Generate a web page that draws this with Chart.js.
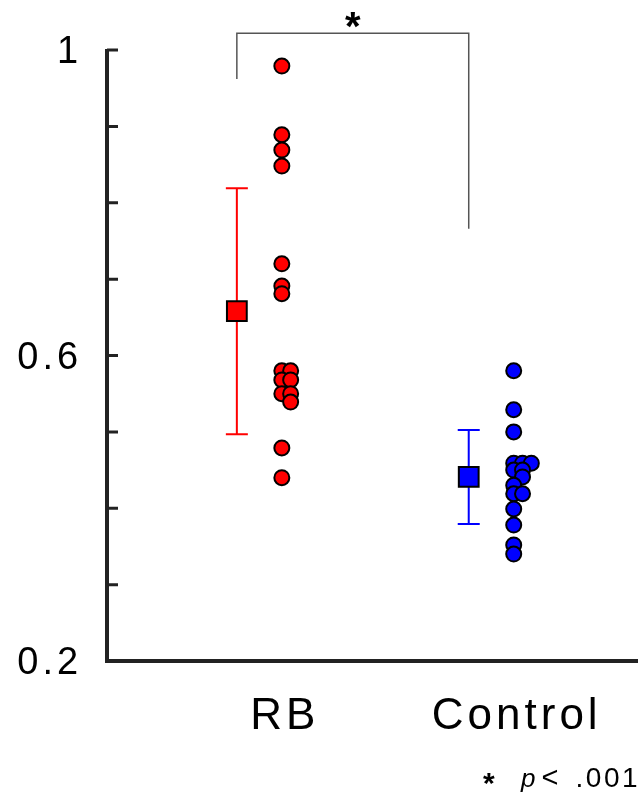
<!DOCTYPE html>
<html><head><meta charset="utf-8">
<script src="https://cdn.jsdelivr.net/npm/chart.js@4/dist/chart.umd.min.js"></script>
<style>html,body{margin:0;padding:0;background:#fff;}canvas{display:block;}</style>
</head><body>
<canvas id="c" width="640" height="798"></canvas>
<script>
// ---- data ----
const categories = ['RB', 'Control'];
const rbValues = [0.979, 0.889, 0.869, 0.848, 0.720, 0.691, 0.681, 0.580, 0.580, 0.568, 0.568, 0.550, 0.550, 0.539, 0.479, 0.440];
const controlValues = [0.580, 0.529, 0.500, 0.459, 0.459, 0.459, 0.450, 0.450, 0.441, 0.430, 0.419, 0.419, 0.399, 0.378, 0.352, 0.340];
const rbStack = [0, 0, 0, 0, 0, 0, 0, 0, 1, 0, 1, 0, 1, 1, 0, 0];
const controlStack = [0, 0, 0, 0, 1, 2, 0, 1, 1, 0, 0, 1, 0, 0, 0, 0];
const means = [0.658, 0.441];
const sds = [0.161, 0.0615];
const yTickValues = [0.2, 0.3, 0.4, 0.5, 0.6, 0.7, 0.8, 0.9, 1.0];
const yTickLabels = ['0.2', '', '', '', '0.6', '', '', '', '1'];
const bracketLevels = [1.022, 0.962, 0.766]; // top, left foot, right foot
const sigMark = '*';
const noteParts = ['*', 'p', '<', '.001'];

// ---- style ----
const colors = ['#ff0000', '#0000ff'];
const POINT_OFFSET = 0.194;
const STACK_STEP = 0.038;
const FONT = '"Liberation Sans", Arial, sans-serif';

function spaced(ctx, text, x, y, spacing, align) {
  const chars = [...text];
  const ws = chars.map(c => ctx.measureText(c).width);
  const total = ws.reduce((s, w) => s + w, 0) + spacing * (chars.length - 1);
  let sx = align === 'center' ? x - total / 2 : align === 'right' ? x - total : x;
  ctx.textAlign = 'left';
  chars.forEach((c, i) => { ctx.fillText(c, sx, y); sx += ws[i] + spacing; });
  return total;
}
// right-align by ink edge
function spacedInkRight(ctx, text, x, y, spacing) {
  const chars = [...text];
  const last = ctx.measureText(chars[chars.length - 1]);
  const bearing = last.width - last.actualBoundingBoxRight;
  return spaced(ctx, text, x + bearing, y, spacing, 'right');
}

const decor = {
  id: 'decor',
  beforeDatasetsDraw(chart) {
    const { ctx, chartArea: a, scales: { x, y } } = chart;
    ctx.save();
    // error bars
    means.forEach((m, i) => {
      const px = x.getPixelForValue(i + 1);
      const t = y.getPixelForValue(m + sds[i]);
      const b = y.getPixelForValue(m - sds[i]);
      ctx.strokeStyle = colors[i];
      ctx.lineWidth = 2;
      ctx.beginPath();
      ctx.moveTo(px, t); ctx.lineTo(px, b);
      ctx.moveTo(px - 11, t); ctx.lineTo(px + 11, t);
      ctx.moveTo(px - 11, b); ctx.lineTo(px + 11, b);
      ctx.stroke();
    });
    // axes
    ctx.strokeStyle = '#222';
    ctx.lineWidth = 4;
    ctx.lineJoin = 'miter';
    ctx.beginPath();
    ctx.moveTo(a.left, a.top - 1);
    ctx.lineTo(a.left, a.bottom);
    ctx.lineTo(a.right, a.bottom);
    ctx.stroke();
    ctx.lineWidth = 3;
    ctx.beginPath();
    yTickValues.forEach(v => {
      const py = y.getPixelForValue(v);
      ctx.moveTo(a.left, py); ctx.lineTo(a.left + 11, py);
    });
    ctx.stroke();
    // significance bracket
    const x1 = x.getPixelForValue(1), x2 = x.getPixelForValue(2);
    ctx.strokeStyle = '#555';
    ctx.lineWidth = 1.5;
    ctx.beginPath();
    ctx.moveTo(x1, y.getPixelForValue(bracketLevels[1]));
    ctx.lineTo(x1, y.getPixelForValue(bracketLevels[0]));
    ctx.lineTo(x2, y.getPixelForValue(bracketLevels[0]));
    ctx.lineTo(x2, y.getPixelForValue(bracketLevels[2]));
    ctx.stroke();
    ctx.restore();
  },
  afterDraw(chart) {
    const { ctx, chartArea: a, scales: { x, y } } = chart;
    ctx.save();
    ctx.fillStyle = '#000';
    ctx.textBaseline = 'alphabetic';
    // y tick labels
    ctx.font = '38px ' + FONT;
    yTickValues.forEach((v, i) => {
      if (!yTickLabels[i]) return;
      spacedInkRight(ctx, yTickLabels[i], 77, y.getPixelForValue(v) + 13, 4);
    });
    // category labels
    ctx.font = '44px ' + FONT;
    categories.forEach((c, i) => {
      spaced(ctx, c, x.getPixelForValue(i + 1 + POINT_OFFSET) + 1, 729, 4, 'center');
    });
    // significance star
    ctx.font = 'bold 40px ' + FONT;
    spaced(ctx, sigMark, (x.getPixelForValue(1) + x.getPixelForValue(2)) / 2, 40, 0, 'center');
    // note
    ctx.font = '28px ' + FONT;
    spacedInkRight(ctx, noteParts[3], 637, 787, 2.5);
    ctx.font = '29px ' + FONT;
    spaced(ctx, noteParts[2], 550, 787, 0, 'center');
    ctx.font = 'italic 26px ' + FONT;
    spaced(ctx, noteParts[1], 521, 787, 0, 'left');
    ctx.font = 'bold 30px ' + FONT;
    spaced(ctx, noteParts[0], 483, 793, 0, 'left');
    ctx.restore();
  }
};

const pts = (vals, stack, i) => vals.map((v, k) => ({ x: i + 1 + POINT_OFFSET + stack[k] * STACK_STEP, y: v }));

new Chart(document.getElementById('c'), {
  type: 'scatter',
  data: {
    datasets: [
      { label: categories[0], data: pts(rbValues, rbStack, 0), backgroundColor: colors[0], borderColor: '#000', borderWidth: 2, pointRadius: 7.5, pointHoverRadius: 7.5, clip: false },
      { label: categories[1], data: pts(controlValues, controlStack, 1), backgroundColor: colors[1], borderColor: '#000', borderWidth: 2, pointRadius: 7.5, pointHoverRadius: 7.5, clip: false },
      { label: 'mean ' + categories[0], data: [{ x: 1, y: means[0] }], pointStyle: 'rect', backgroundColor: colors[0], borderColor: '#000', borderWidth: 2, pointRadius: 14, pointHoverRadius: 14, clip: false },
      { label: 'mean ' + categories[1], data: [{ x: 2, y: means[1] }], pointStyle: 'rect', backgroundColor: colors[1], borderColor: '#000', borderWidth: 2, pointRadius: 14, pointHoverRadius: 14, clip: false }
    ]
  },
  options: {
    responsive: false,
    animation: false,
    events: [],
    layout: { autoPadding: false, padding: { top: 50, right: 2, bottom: 137, left: 0 } },
    plugins: { legend: { display: false }, tooltip: { enabled: false } },
    scales: {
      x: { type: 'linear', min: 0.44, max: 2.73, display: false },
      y: {
        type: 'linear', min: 0.2, max: 1.0,
        grid: { display: false }, border: { display: false },
        ticks: { display: false },
        afterFit(s) { s.width = 107; }
      }
    }
  },
  plugins: [decor]
});
</script>
</body></html>
